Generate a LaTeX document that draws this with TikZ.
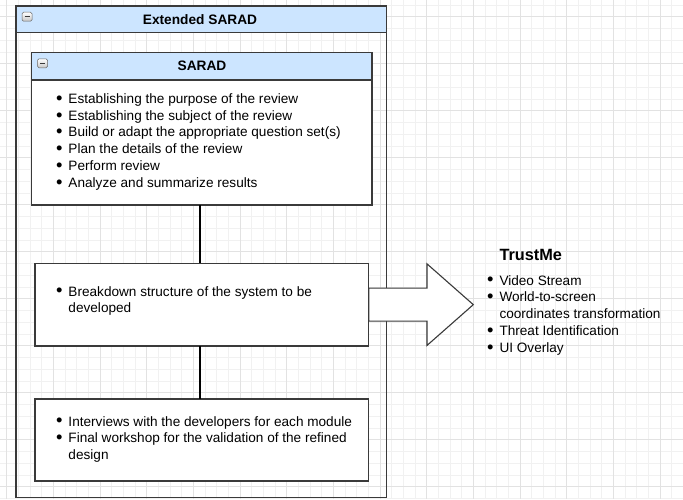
\documentclass[tikz,border=0pt]{standalone}
\usepackage{fontspec}
\setmainfont{Liberation Sans}
\usetikzlibrary{calc}
\definecolor{hdr}{HTML}{CCE5FF}
\definecolor{edge}{HTML}{3A3A3A}
\definecolor{gminor}{HTML}{F1F1F1}
\definecolor{gmajor}{HTML}{E2E2E2}
\newcommand\blt{\makebox[12.5pt][l]{\raisebox{-0.9pt}{\scalebox{1.35}{\textbullet}}}}
\newcommand\ind{\hspace*{12.5pt}}
\begin{document}
\begin{tikzpicture}[x=1pt,y=-1pt,
  gridminor/.style={draw=gminor,line width=0.8pt},
  gridmajor/.style={draw=gmajor,line width=0.8pt},
  frame/.style={draw=edge,line width=1.3pt,inner sep=0pt,outer sep=0pt,anchor=north west},
  whitebox/.style={frame,fill=white},
  header/.style={frame,fill=hdr},
  link/.style={draw=black,line width=2.8pt},
  txt/.style={inner sep=0pt,anchor=base west,align=left,font=\fontsize{13.6pt}{16.8pt}\selectfont},
  ttl/.style={inner sep=0pt,anchor=base,font=\bfseries\fontsize{13.7pt}{15pt}\selectfont},
  minus/.style={draw=gray!80!black,line width=0.5pt,rounded corners=1.5pt,top color=white,bottom color=gray!45,minimum width=10pt,minimum height=9pt,inner sep=0pt}
]
\useasboundingbox (0,0) rectangle (683,499);
\fill[white] (0,0) rectangle (683,499);
% grid
\foreach \k in {-1,...,58} \draw[gridminor] ({6.7+11.667*\k},0) -- ({6.7+11.667*\k},499);
\foreach \k in {-2,...,41} \draw[gridminor] (0,{16.7+11.75*\k}) -- (683,{16.7+11.75*\k});
\foreach \k in {0,...,14} \draw[gridmajor] ({6.7+46.667*\k},0) -- ({6.7+46.667*\k},499);
\foreach \k in {-1,...,10} \draw[gridmajor] (0,{16.7+47*\k}) -- (683,{16.7+47*\k});

% outer container
\node[frame,minimum width=370.7pt,minimum height=491.3pt] (outer) at (16,6) {};
\node[header,minimum width=370.7pt,minimum height=26.7pt] (outerhead) at (16,6) {};
\node[minus] (m1) at (27,16.7) {};
\draw[edge,line width=1.2pt] ([xshift=-2.5pt]m1.center) -- ([xshift=2.5pt]m1.center);
\node[ttl] (outertitle) at (200,24) {Extended SARAD};

\coordinate (vx) at (200,0);
\node[whitebox,minimum width=333.7pt,minimum height=82.7pt] (b2) at (35,263.3) {};
\node[whitebox,minimum width=333.7pt,minimum height=82pt] (b3) at (35,399) {};

% big arrow
\draw[draw=edge,line width=1.1pt,fill=white,line join=miter]
  ($(b2.east)+(0,-16.5)$) -- ($(b2.east)+(58.3,-16.5)$) -- ($(b2.east)+(58.3,-40.8)$)
  -- ($(b2.east)+(104.6,0)$) -- ($(b2.east)+(58.3,40.8)$) -- ($(b2.east)+(58.3,16.5)$)
  -- ($(b2.east)+(0,16.5)$) -- cycle;
\node[whitebox,minimum width=333.7pt,minimum height=82.7pt] (b2top) at (35,263.3) {};

% SARAD box
\node[whitebox,minimum width=340.3pt,minimum height=152.3pt] (sarad) at (31.7,52.7) {};
\node[header,minimum width=340.3pt,minimum height=27.3pt] (saradhead) at (31.7,52.7) {};
\node[minus] (m2) at (42.5,63.3) {};
\draw[edge,line width=1.2pt] ([xshift=-2.5pt]m2.center) -- ([xshift=2.5pt]m2.center);
\node[ttl] (saradtitle) at (202,70.7) {SARAD};

% connectors
\draw[link] (sarad.south -| vx) -- (b2.north -| vx);
\draw[link] (b2.south -| vx) -- (b3.north -| vx);

% texts (anchored at the baseline of the last line)
\node[txt] (t1) at (55.8,187.3) {\blt Establishing the purpose of the review\\
\blt Establishing the subject of the review\\
\blt Build or adapt the appropriate question set(s)\\
\blt Plan the details of the review\\
\blt Perform review\\
\blt Analyze and summarize results};
\node[txt] (t2) at (55.8,312.8) {\blt Breakdown structure of the system to be\\
\ind developed};
\node[txt] (t3) at (55.8,459.6) {\blt Interviews with the developers for each module\\
\blt Final workshop for the validation of the refined\\
\ind design};

% TrustMe
\node[inner sep=0pt,anchor=base west,font=\bfseries\fontsize{16.3pt}{18pt}\selectfont] (tm) at (499.3,260.7) {TrustMe};
\node[txt] (t4) at (486.8,352.2) {\blt Video Stream\\
\blt World-to-screen\\
\ind coordinates transformation\\
\blt Threat Identification\\
\blt UI Overlay};
\end{tikzpicture}
\end{document}
